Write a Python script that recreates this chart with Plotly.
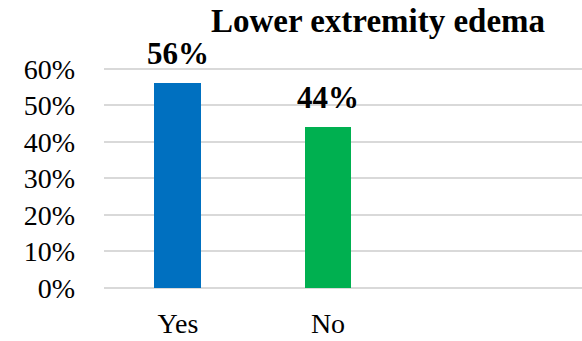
import plotly.graph_objects as go

categories = ["Yes", "No"]
values = [0.56, 0.44]
colors = ["#0070C0", "#00B050"]
labels = ["56%", "44%"]
title_text = "Lower extremity edema"
y_ticks = [0, 0.1, 0.2, 0.3, 0.4, 0.5, 0.6]
y_tick_text = ["0%", "10%", "20%", "30%", "40%", "50%", "60%"]

FONT = "Liberation Serif"

fig = go.Figure()
fig.add_trace(go.Bar(
    x=categories, y=values, marker=dict(color=colors, line=dict(width=0)),
    width=0.313, showlegend=False, hoverinfo="skip",
))

for c, v, t in zip(categories, values, labels):
    fig.add_annotation(x=c, y=v, text=f"<b>{t}</b>", showarrow=False,
                       yanchor="bottom", yshift=10,
                       font=dict(family=FONT, size=31, color="#000000"))

fig.update_layout(
    width=582, height=341,
    margin=dict(l=104, r=0, t=66.7, b=52.5),
    paper_bgcolor="white", plot_bgcolor="white",
    font=dict(family=FONT),
    title=dict(text=f"<b>{title_text}</b>", x=378/582, xanchor="center",
               xref="container", y=1-20/341, yanchor="middle", yref="container",
               font=dict(family=FONT, size=33, color="#000000")),
    bargap=0,
)
fig.update_xaxes(range=[-0.493, 2.693], showgrid=False, showline=False,
                 ticks="", ticklabelstandoff=16,
                 tickfont=dict(family=FONT, size=28, color="#000000"))
fig.update_yaxes(range=[0, 0.605], tickvals=y_ticks, ticktext=y_tick_text,
                 showgrid=True, gridcolor="#d9d9d9", gridwidth=1.5,
                 zeroline=True, zerolinecolor="#d9d9d9", zerolinewidth=1.5,
                 showline=False, ticks="", ticklabelstandoff=28,
                 tickfont=dict(family=FONT, size=28, color="#000000"))

fig.write_html("out.html")
